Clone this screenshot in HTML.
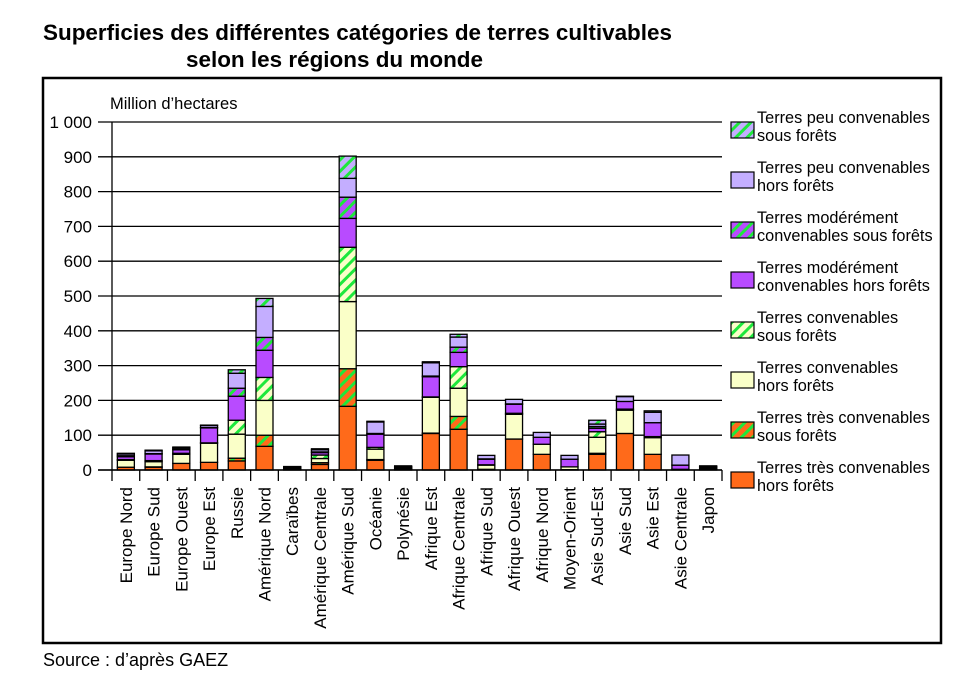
<!DOCTYPE html>
<html><head><meta charset="utf-8"><style>
html,body{margin:0;padding:0;background:#fff;}
svg{display:block;font-family:"Liberation Sans",Arial,sans-serif;}
</style></head><body>
<svg id="chart" width="964" height="673" viewBox="0 0 964 673" xmlns="http://www.w3.org/2000/svg">
<defs>
<pattern id="hatch-orange" patternUnits="userSpaceOnUse" width="8" height="8" patternTransform="rotate(45)"><rect width="8" height="8" fill="#ff6a1a"/><rect x="0" y="0" width="3" height="8" fill="#1ee83c"/></pattern>
<pattern id="hatch-cream" patternUnits="userSpaceOnUse" width="8" height="8" patternTransform="rotate(45)"><rect width="8" height="8" fill="#faffc8"/><rect x="0" y="0" width="3" height="8" fill="#1ee83c"/></pattern>
<pattern id="hatch-purple" patternUnits="userSpaceOnUse" width="8" height="8" patternTransform="rotate(45)"><rect width="8" height="8" fill="#b84bff"/><rect x="0" y="0" width="3" height="8" fill="#1ee83c"/></pattern>
<pattern id="hatch-lav" patternUnits="userSpaceOnUse" width="8" height="8" patternTransform="rotate(45)"><rect width="8" height="8" fill="#c4aeff"/><rect x="0" y="0" width="3" height="8" fill="#1ee83c"/></pattern>
</defs>
<text x="43" y="40" font-size="22" font-weight="bold" textLength="629" lengthAdjust="spacingAndGlyphs">Superficies des différentes catégories de terres cultivables</text>
<text x="186" y="67" font-size="22" font-weight="bold" textLength="297" lengthAdjust="spacingAndGlyphs">selon les régions du monde</text>
<rect x="43" y="78" width="898" height="565" fill="none" stroke="#000" stroke-width="2.5"/>
<text x="110" y="109" font-size="16.5">Million d’hectares</text>
<g id="grid"></g>
<g id="bars"></g>
<g id="axes"></g>
<g id="legend"></g>
<text x="43" y="666" font-size="18">Source : d’après GAEZ</text>
</svg>
<script>
const categories = ["Europe Nord","Europe Sud","Europe Ouest","Europe Est","Russie","Amérique Nord","Caraïbes","Amérique Centrale","Amérique Sud","Océanie","Polynésie","Afrique Est","Afrique Centrale","Afrique Sud","Afrique Ouest","Afrique Nord","Moyen-Orient","Asie Sud-Est","Asie Sud","Asie Est","Asie Centrale","Japon"];
const seriesNames = ["Terres très convenables hors forêts","Terres très convenables sous forêts","Terres convenables hors forêts","Terres convenables sous forêts","Terres modérément convenables hors forêts","Terres modérément convenables sous forêts","Terres peu convenables hors forêts","Terres peu convenables sous forêts"];
const verySuitOpen   = [8,8,19,22,26,68,3,16,183,28,2,105,117,2,89,45,1,45,105,45,0,3];
const verySuitForest = [0,1,0,0,8,32,1,5,108,2,0,1,37,0,0,0,0,3,0,0,0,1];
const suitOpen       = [20,15,26,55,69,100,2,12,193,30,2,103,81,12,71,29,8,46,67,48,2,2];
const suitForest     = [2,3,3,1,40,66,1,10,156,5,1,1,62,1,3,0,0,16,3,3,0,2];
const modOpen        = [8,19,10,43,69,78,1,7,83,38,2,58,41,16,26,20,22,10,22,40,12,1];
const modForest      = [3,1,2,1,23,37,0,2,61,2,2,2,15,1,1,0,0,5,0,0,0,1];
const poorOpen       = [5,8,4,6,43,89,1,6,54,33,1,38,29,10,13,14,11,7,14,30,29,1];
const poorForest     = [2,2,2,1,10,23,1,3,64,2,2,3,8,0,0,0,0,11,1,4,0,1];
const yTicks = [0,100,200,300,400,500,600,700,800,900,1000];
const yTickLabels = ["0","100","200","300","400","500","600","700","800","900","1 000"];
const seriesData = [verySuitOpen,verySuitForest,suitOpen,suitForest,modOpen,modForest,poorOpen,poorForest];
const fills = ["#ff6a1a","url(#hatch-orange)","#faffc8","url(#hatch-cream)","#b84bff","url(#hatch-purple)","#c4aeff","url(#hatch-lav)"];

const NS="http://www.w3.org/2000/svg";
const plotL=112, plotR=722, y0=470, y1000=122;
const yScale=v=>y0-(v/1000)*(y0-y1000);
const band=(plotR-plotL)/categories.length;
const xCenter=i=>plotL+band*(i+0.5);
function mk(tag,attrs,parent){const e=document.createElementNS(NS,tag);for(const k in attrs)e.setAttribute(k,attrs[k]);parent.appendChild(e);return e;}

const grid=document.getElementById('grid');
yTicks.forEach((t,i)=>{
  const y=yScale(t);
  const l=mk('line',{x1:98,x2:plotR,y1:y,y2:y,stroke:'#000','stroke-width':1.3},grid);
  
  
  const tx=mk('text',{x:92,y:y+6,'font-size':17,'text-anchor':'end'},grid);
  tx.textContent=yTickLabels[i];
  
  
});

const bars=document.getElementById('bars');
const bw=17;
categories.forEach((c,i)=>{
  let acc=0;
  const g=mk('g',{},bars);
  
  
  seriesData.forEach((arr,s)=>{
    const v=arr[i]; if(v<=0) return;
    const yt=yScale(acc+v), yb=yScale(acc);
    const r=mk('rect',{x:xCenter(i)-bw/2,y:yt,width:bw,height:yb-yt,fill:fills[s],stroke:'#000','stroke-width':1.3},g);
    
    
    acc+=v;
  });
});

const axes=document.getElementById('axes');
const ya=mk('line',{x1:plotL,x2:plotL,y1:y1000,y2:y0,stroke:'#000','stroke-width':1.3},axes);


const xa=mk('line',{x1:98,x2:plotR,y1:y0,y2:y0,stroke:'#000','stroke-width':1.5},axes);


for(let i=0;i<=categories.length;i++){
  const x=plotL+band*i;
  const t=mk('line',{x1:x,x2:x,y1:y0,y2:y0+11,stroke:'#000','stroke-width':1.3},axes);
  
  
}
categories.forEach((c,i)=>{
  const x=xCenter(i)+6, y=487;
  const t=mk('text',{x:x,y:y,'font-size':17,'text-anchor':'end',transform:`rotate(-90 ${x} ${y})`},axes);
  t.textContent=c;
  
  
});

const legend=document.getElementById('legend');
const legLines=[["Terres peu convenables","sous forêts"],["Terres peu convenables","hors forêts"],["Terres modérément","convenables sous forêts"],["Terres modérément","convenables hors forêts"],["Terres convenables","sous forêts"],["Terres convenables","hors forêts"],["Terres très convenables","sous forêts"],["Terres très convenables","hors forêts"]];
legLines.forEach((ln,k)=>{
  const s=7-k;
  const cy=129+k*50;
  const g=mk('g',{},legend);
  
  
  mk('rect',{x:731,y:cy-7,width:23,height:16,fill:fills[s],stroke:'#000','stroke-width':1.2},g);
  const t1=mk('text',{x:757,y:cy-6,'font-size':16.3},g); t1.textContent=ln[0];
  const t2=mk('text',{x:757,y:cy+12,'font-size':16.3},g); t2.textContent=ln[1];
});
</script>
</body></html>
